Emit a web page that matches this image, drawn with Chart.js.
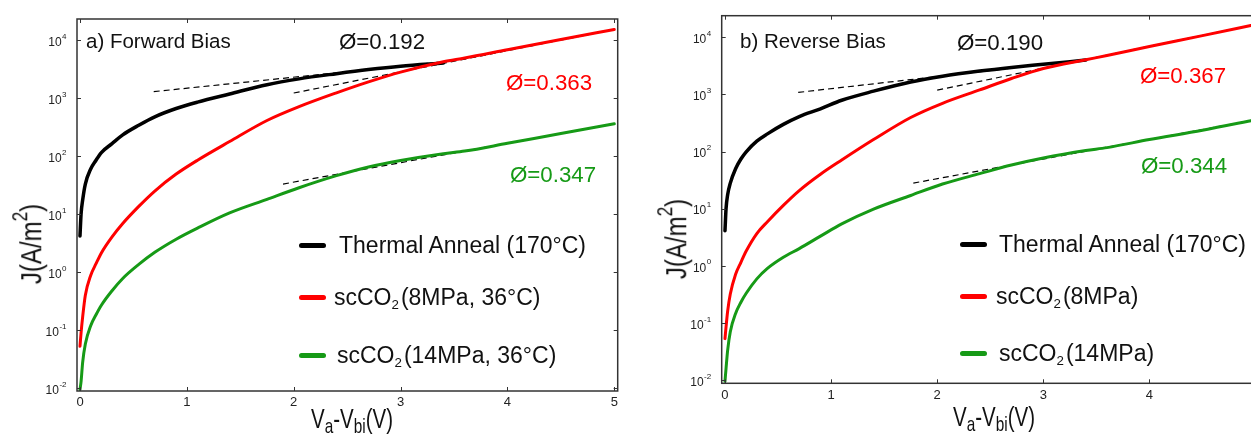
<!DOCTYPE html>
<html>
<head>
<meta charset="utf-8">
<script src="https://cdn.jsdelivr.net/npm/chart.js@4.4.1/dist/chart.umd.min.js"></script>
<style>
  html, body { margin: 0; padding: 0; background: #fff; overflow: hidden; }
  body { width: 1251px; height: 434px; position: relative; font-family: "Liberation Sans", Arial, sans-serif; color: #111; }
  canvas { position: absolute; top: 0; }
  #forward { left: 0; }
  #reverse { left: 640px; }
  .txt { position: absolute; white-space: nowrap; line-height: 1; }
  .lab { font-size: 20.5px; }
  .phi { font-size: 22.3px; }
  .leg { font-size: 23px; }
  .leg sub { font-size: 0.58em; vertical-align: -0.35em; line-height: 0; margin-right: 2px; }
  .key { position: absolute; width: 27px; height: 5px; border-radius: 3px; }
  .ytitle { font-size: 24px; transform: translate(-50%, -50%) rotate(-90deg) scaleY(1.25); }
  .ytitle sup { font-size: 0.72em; vertical-align: 0.62em; line-height: 0; }
  .xtitle { font-size: 20.5px; transform: translateX(-50%) scaleY(1.35); transform-origin: center top; }
  .xtitle sub { font-size: 0.75em; vertical-align: -0.25em; line-height: 0; }
</style>
</head>
<body>
<canvas id="forward" width="640" height="434"></canvas>
<canvas id="reverse" width="640" height="434"></canvas>

<!-- a) forward bias labels -->
<div class="txt lab" style="left:86px;top:31px">a) Forward Bias</div>
<div class="txt phi" style="left:339px;top:31px">Ø=0.192</div>
<div class="txt phi" style="left:506px;top:72px;color:#f00">Ø=0.363</div>
<div class="txt phi" style="left:510px;top:164px;color:#169a16">Ø=0.347</div>
<div class="key" style="left:299px;top:242.5px;background:#000"></div>
<div class="txt leg" style="left:339px;top:233.5px">Thermal Anneal (170°C)</div>
<div class="key" style="left:299px;top:295px;background:#f00"></div>
<div class="txt leg" style="left:334px;top:285.5px">scCO<sub>2</sub>(8MPa, 36°C)</div>
<div class="key" style="left:299px;top:352.5px;background:#169a16"></div>
<div class="txt leg" style="left:337px;top:343.5px">scCO<sub>2</sub>(14MPa, 36°C)</div>
<div class="txt ytitle" style="left:31px;top:243.5px">J(A/m<sup>2</sup>)</div>
<div class="txt xtitle" style="left:352px;top:404.5px">V<sub>a</sub>-V<sub>bi</sub>(V)</div>

<!-- b) reverse bias labels -->
<div class="txt lab" style="left:740px;top:31px">b) Reverse Bias</div>
<div class="txt phi" style="left:957px;top:31.5px">Ø=0.190</div>
<div class="txt phi" style="left:1140px;top:65px;color:#f00">Ø=0.367</div>
<div class="txt phi" style="left:1141px;top:155px;color:#169a16">Ø=0.344</div>
<div class="key" style="left:960px;top:241.8px;background:#000"></div>
<div class="txt leg" style="left:999px;top:232.5px">Thermal Anneal (170°C)</div>
<div class="key" style="left:960px;top:293.5px;background:#f00"></div>
<div class="txt leg" style="left:996px;top:284.5px">scCO<sub>2</sub>(8MPa)</div>
<div class="key" style="left:960px;top:351px;background:#169a16"></div>
<div class="txt leg" style="left:999px;top:341.5px">scCO<sub>2</sub>(14MPa)</div>
<div class="txt ytitle" style="left:676px;top:238.5px">J(A/m<sup>2</sup>)</div>
<div class="txt xtitle" style="left:994px;top:403px">V<sub>a</sub>-V<sub>bi</sub>(V)</div>

<script>
// applied voltage above built-in (V)
const voltage = [0, 0.01, 0.025, 0.05, 0.1, 0.15, 0.2, 0.3, 0.4, 0.55, 0.7, 0.9, 1.1, 1.4, 1.75, 2.05, 2.4, 2.7, 3.0, 3.4, 3.6, 4.0, 4.5, 5.0];

// current density J (A/m^2), forward bias
const fwdThermal = [4.2, 10, 17.5, 33, 60, 85, 115, 164, 232, 340, 475, 660, 850, 1175, 1700, 2140, 2630, 3090, 3530, 4000, null, null, null, null];
const fwdSc8 = [0.053, 0.09, 0.17, 0.40, 0.88, 1.4, 2.15, 4.06, 6.9, 13.6, 25, 49, 85, 178, 410, 710, 1230, 1900, 2800, 4230, 4900, 6800, 10200, 15200];
const fwdSc14 = [0.0095, 0.013, 0.028, 0.058, 0.12, 0.185, 0.27, 0.48, 0.78, 1.36, 2.2, 3.7, 5.75, 10.5, 18, 28.5, 46, 65, 84, 110, 122, 166, 245, 360];

// current density J (A/m^2), reverse bias
const revThermal = [4.1, 10, 17.5, 28, 50, 74, 99, 152, 204, 299, 410, 560, 790, 1140, 1650, 2080, 2560, 2970, 3370, 3990, null, null, null, null];
const revSc8 = [0.053, 0.085, 0.16, 0.32, 0.71, 1.15, 1.81, 3.66, 5.9, 11.4, 20.7, 40, 71, 162, 395, 700, 1200, 1900, 2850, 4050, 4790, 6900, 10700, 16800];
const revSc14 = [0.0095, 0.016, 0.033, 0.07, 0.146, 0.23, 0.33, 0.59, 0.9, 1.41, 2.0, 3.3, 5.4, 9.8, 17, 27, 41, 58, 77, 104, 117, 162, 236, 359];

// end points of the dashed high-field fits
const fitThermalV = [0.69, 3.42];
const fitSc8V = [2.0, 5.0];
const fwdFitSc14V = [1.9, 5.0];
const revFitSc14V = [1.775, 5.0];
const fwdFitThermal = [1290, 4250];
const fwdFitSc8 = [1220, 15200];
const fwdFitSc14 = [33, 360];
const revFitThermal = [1085, 4100];
const revFitSc8 = [1190, 16800];
const revFitSc14 = [28, 360];

// axis ticks
const voltTicks = [0, 1, 2, 3, 4, 5];
const decadeTicks = [1e-2, 1e-1, 1, 10, 100, 1e3, 1e4];

const BLACK = '#000';
const RED = '#f00';
const GREEN = '#169a16';

function pts(xs, ys) {
  return xs.map((x, i) => ({x: x, y: ys[i]})).filter(p => p.y !== null);
}

function curve(ys, color, width) {
  return {
    data: pts(voltage, ys),
    borderColor: color,
    borderWidth: width,
    pointRadius: 0,
    cubicInterpolationMode: 'monotone',
    borderCapStyle: 'round'
  };
}

function fit(xs, ys) {
  return {
    data: pts(xs, ys),
    borderColor: '#000',
    borderWidth: 1.2,
    borderDash: [6, 4],
    pointRadius: 0,
    tension: 0
  };
}

// box frame with inward ticks and 10^n labels
const frame = {
  id: 'frame',
  afterDatasetsDraw(chart) {
    const {ctx, chartArea: a, scales: {x, y}} = chart;
    ctx.save();
    ctx.strokeStyle = '#333';
    ctx.lineWidth = 1.5;
    ctx.strokeRect(a.left, a.top, a.right - a.left, a.bottom - a.top);
    ctx.lineWidth = 1;
    ctx.beginPath();
    x.ticks.forEach(t => {
      const px = Math.round(x.getPixelForValue(t.value)) + 0.5;
      ctx.moveTo(px, a.bottom); ctx.lineTo(px, a.bottom - 4);
      ctx.moveTo(px, a.top); ctx.lineTo(px, a.top + 4);
    });
    y.ticks.forEach(t => {
      const py = Math.round(y.getPixelForValue(t.value)) + 0.5;
      ctx.moveTo(a.left, py); ctx.lineTo(a.left + 4, py);
      ctx.moveTo(a.right, py); ctx.lineTo(a.right - 4, py);
    });
    ctx.stroke();

    ctx.fillStyle = '#222';
    ctx.textAlign = 'left';
    ctx.textBaseline = 'middle';
    y.ticks.forEach(t => {
      const py = y.getPixelForValue(t.value);
      const exp = String(Math.round(Math.log10(t.value)));
      ctx.font = '8px "Liberation Sans", Arial';
      const ew = ctx.measureText(exp).width;
      ctx.font = '12px "Liberation Sans", Arial';
      const bw = ctx.measureText('10').width;
      const right = a.left - 11;
      ctx.fillText('10', right - ew - bw, py + 2.5);
      ctx.font = '8px "Liberation Sans", Arial';
      ctx.fillText(exp, right - ew + 0.5, py - 3.5);
    });
    ctx.restore();
  }
};

function makeChart(id, cfg) {
  return new Chart(document.getElementById(id), {
    type: 'line',
    data: {datasets: cfg.datasets},
    plugins: [frame],
    options: {
      responsive: false,
      animation: false,
      events: [],
      layout: {padding: {left: 0, top: cfg.top, right: cfg.right, bottom: 0}},
      plugins: {legend: {display: false}, tooltip: {enabled: false}},
      scales: {
        x: {
          type: 'linear',
          min: cfg.xMin,
          max: cfg.xMax,
          afterBuildTicks: s => { s.ticks = voltTicks.map(v => ({value: v})); },
          afterFit: s => { s.height = cfg.xAxisH; },
          ticks: {
            color: '#222',
            font: {family: '"Liberation Sans", Arial', size: 13},
            padding: 4,
            maxRotation: 0,
            autoSkip: false,
            callback: v => String(v)
          },
          grid: {display: false, drawTicks: false},
          border: {display: false}
        },
        y: {
          type: 'logarithmic',
          min: cfg.yMin,
          max: cfg.yMax,
          afterBuildTicks: s => { s.ticks = decadeTicks.map(v => ({value: v})); },
          afterFit: s => { s.width = cfg.yAxisW; },
          ticks: {display: false},
          grid: {display: false, drawTicks: false},
          border: {display: false}
        }
      }
    }
  });
}

makeChart('forward', {
  top: 19, right: 22.3, xAxisH: 43, yAxisW: 77,
  xMin: -0.028, xMax: 5.032, yMin: 0.00898, yMax: 23000,
  datasets: [
    curve(fwdSc14, GREEN, 3),
    curve(fwdSc8, RED, 3),
    curve(fwdThermal, BLACK, 3.5),
    fit(fitThermalV, fwdFitThermal),
    fit(fitSc8V, fwdFitSc8),
    fit(fwdFitSc14V, fwdFitSc14)
  ]
});

makeChart('reverse', {
  top: 15.7, right: 21.2, xAxisH: 50.7, yAxisW: 81.7,
  xMin: -0.031, xMax: 5.031, yMin: 0.00875, yMax: 23900,
  datasets: [
    curve(revSc14, GREEN, 3),
    curve(revSc8, RED, 3),
    curve(revThermal, BLACK, 3.5),
    fit(fitThermalV, revFitThermal),
    fit(fitSc8V, revFitSc8),
    fit(revFitSc14V, revFitSc14)
  ]
});
</script>
</body>
</html>
